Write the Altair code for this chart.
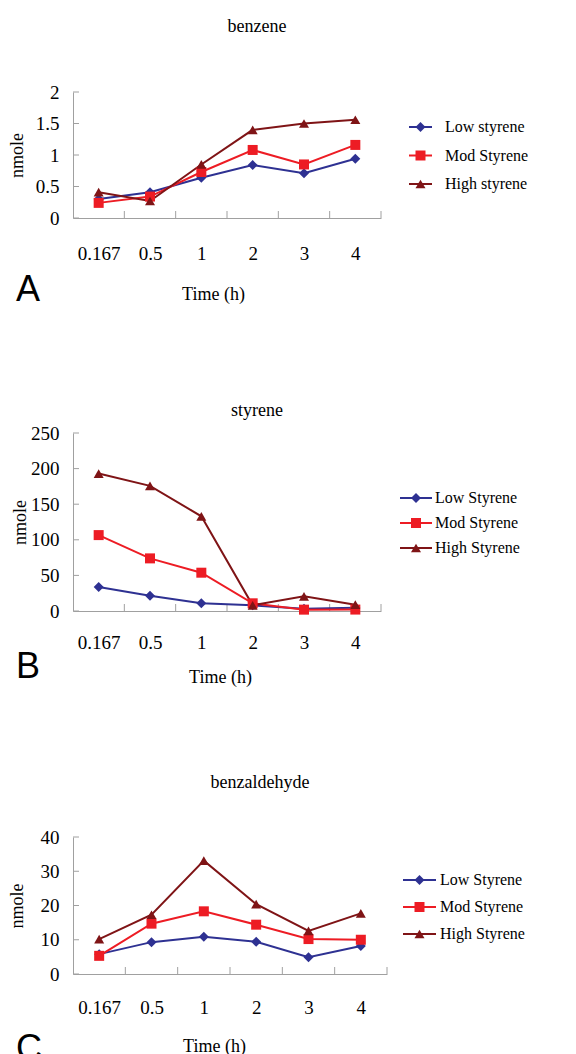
import json
import altair as alt
import pandas as pd

# ---------------- data ----------------
times = ["0.167", "0.5", "1", "2", "3", "4"]

benzene_low = [0.30, 0.41, 0.64, 0.84, 0.71, 0.94]
benzene_mod = [0.24, 0.34, 0.73, 1.08, 0.85, 1.16]
benzene_high = [0.41, 0.27, 0.85, 1.40, 1.50, 1.56]

styrene_low = [33.6, 21.5, 10.8, 8.0, 3.3, 4.7]
styrene_mod = [106.6, 73.9, 53.8, 10.8, 1.9, 2.0]
styrene_high = [193.0, 175.8, 133.0, 8.0, 20.6, 8.9]

benzaldehyde_low = [5.8, 9.3, 10.9, 9.4, 4.9, 8.2]
benzaldehyde_mod = [5.3, 14.7, 18.3, 14.4, 10.2, 10.0]
benzaldehyde_high = [10.2, 17.3, 33.1, 20.4, 12.6, 17.7]

series_a = ["Low styrene", "Mod Styrene", "High styrene"]
series_bc = ["Low Styrene", "Mod Styrene", "High Styrene"]

ticks_a = [0, 0.5, 1, 1.5, 2]
ticks_b = [0, 50, 100, 150, 200, 250]
ticks_c = [0, 10, 20, 30, 40]

colors = ["#2E3192", "#ED1C24", "#7F1416"]
shapes = ["diamond", "square", "triangle-up"]
marker_sizes = [100, 100, 135]

SERIF = "Liberation Serif"
SANS = "Liberation Sans"
GRAY = "#A0A0A0"


def panel(title, letter, names, values, yticks, w, h, c):
    rows = []
    for name, vals in zip(names, values):
        for i, (t, v) in enumerate(zip(times, vals)):
            rows.append({"series": name, "time": t, "pos": i + 0.5, "value": v})
    df = pd.DataFrame(rows)

    xscale = alt.Scale(domain=[0, len(times)], nice=False, zero=False)
    yscale = alt.Scale(domain=[yticks[0], yticks[-1]], nice=False)
    cscale = alt.Scale(domain=names, range=colors)
    sscale = alt.Scale(domain=names, range=shapes)
    zscale = alt.Scale(domain=names, range=marker_sizes)

    xaxis = alt.Axis(
        values=[i + 0.5 for i in range(len(times))],
        labelExpr=json.dumps(times) + "[floor(datum.value)]",
        ticks=False, tickSize=0, grid=False, domainColor=GRAY,
        labelPadding=c["xlp"], labelOverlap=False, labelFlush=False,
        title="Time (h)", titleX=c["xtx"], titleY=c["xty"],
        titleBaseline="middle", titleAlign="center",
    )
    yaxis = alt.Axis(
        values=yticks, labelExpr="'' + datum.value", ticks=False, tickSize=0,
        grid=False, domainColor=GRAY, labelPadding=14, labelOverlap=False,
        labelFlush=False,
        title="nmole", titleX=c["ytx"], titleY=h / 2,
        titleBaseline="middle", titleAlign="center",
    )
    X = alt.X("pos:Q", scale=xscale, axis=xaxis)
    Y = alt.Y("value:Q", scale=yscale, axis=yaxis)
    color = alt.Color("series:N", scale=cscale, legend=None)
    shape = alt.Shape("series:N", scale=sscale, legend=None)
    size = alt.Size("series:N", scale=zscale, legend=None)

    ytick_rules = alt.Chart(pd.DataFrame({"value": yticks})).mark_rule(
        color=GRAY, strokeWidth=1
    ).encode(y=Y, x=alt.value(0), x2=alt.value(6))
    xtick_rules = alt.Chart(
        pd.DataFrame({"pos": list(range(1, len(times) + 1))})
    ).mark_rule(color=GRAY, strokeWidth=1).encode(
        x=X, y=alt.value(h), y2=alt.value(h - 7)
    )
    lines = alt.Chart(df).mark_line(strokeWidth=2).encode(
        x=X, y=Y, color=color, detail="series:N"
    )
    points = alt.Chart(df).mark_point(filled=True, opacity=1).encode(
        x=X, y=Y, color=color, shape=shape, size=size
    )
    main = alt.layer(ytick_rules, xtick_rules, lines, points)

    leg_df = pd.DataFrame({"series": names})
    LY = alt.Y(
        "series:N",
        scale=alt.Scale(type="point", domain=names, range=c["rows"], padding=0),
        axis=None,
    )
    leg_line = alt.Chart(leg_df).mark_rule(strokeWidth=2).encode(
        y=LY, x=alt.value(c["lx"][0]), x2=alt.value(c["lx"][1]), color=color
    )
    leg_pt = alt.Chart(leg_df).mark_point(filled=True, opacity=1).encode(
        y=LY, x=alt.value((c["lx"][0] + c["lx"][1]) / 2), color=color,
        shape=shape, size=size
    )
    leg_txt = alt.Chart(leg_df).mark_text(
        align="left", baseline="middle", font=SERIF, fontSize=16, color="black"
    ).encode(y=LY, x=alt.value(c["tx"]), text="series:N")
    legend = alt.layer(leg_line, leg_pt, leg_txt)

    lab = alt.Chart(pd.DataFrame({"t": [letter]})).mark_text(
        align="left", baseline="alphabetic", font=SANS, fontSize=36, color="black"
    ).encode(text="t:N", x=alt.value(-57), y=alt.value(c["letter_y"]))

    return alt.layer(main, legend, lab).resolve_scale(y="independent").properties(
        width=w,
        height=h,
        title=alt.TitleParams(
            title, anchor="middle", frame="group", dx=c["tdx"], offset=c["toff"],
            font=SERIF, fontSize=18, fontWeight="normal", color="black",
        ),
    )


A = panel(
    "benzene", "A", series_a, [benzene_low, benzene_mod, benzene_high], ticks_a,
    308, 126,
    dict(xlp=26, xtx=140, xty=76, ytx=-56, rows=[35, 92], lx=[336, 359], tx=372,
         letter_y=209, tdx=30, toff=47),
)
B = panel(
    "styrene", "B", series_bc, [styrene_low, styrene_mod, styrene_high], ticks_b,
    308, 178,
    dict(xlp=22, xtx=147, xty=66, ytx=-53, rows=[65, 115], lx=[327, 359], tx=362,
         letter_y=245, tdx=30, toff=4),
)
C = panel(
    "benzaldehyde", "C", series_bc,
    [benzaldehyde_low, benzaldehyde_mod, benzaldehyde_high], ticks_c,
    314, 137,
    dict(xlp=24, xtx=141, xty=72, ytx=-56, rows=[43, 97], lx=[330, 363], tx=367,
         letter_y=223, tdx=30, toff=36),
)

inner = alt.vconcat(B, C, spacing=226, bounds="flush").resolve_scale(
    color="independent", shape="independent", size="independent"
)
chart = alt.vconcat(A, inner, spacing=215, bounds="flush").resolve_scale(
    color="independent", shape="independent", size="independent"
).properties(
    padding={"left": 0, "top": 10, "right": 0, "bottom": 0}
).configure_view(stroke=None).configure_axis(
    labelFont=SERIF, titleFont=SERIF, labelFontSize=19, titleFontSize=18,
    labelColor="black", titleColor="black", titleFontWeight="normal",
).configure_title(font=SERIF, fontSize=18, fontWeight="normal", color="black")

chart.save("out.html", embed_options={"renderer": "svg", "actions": False})
